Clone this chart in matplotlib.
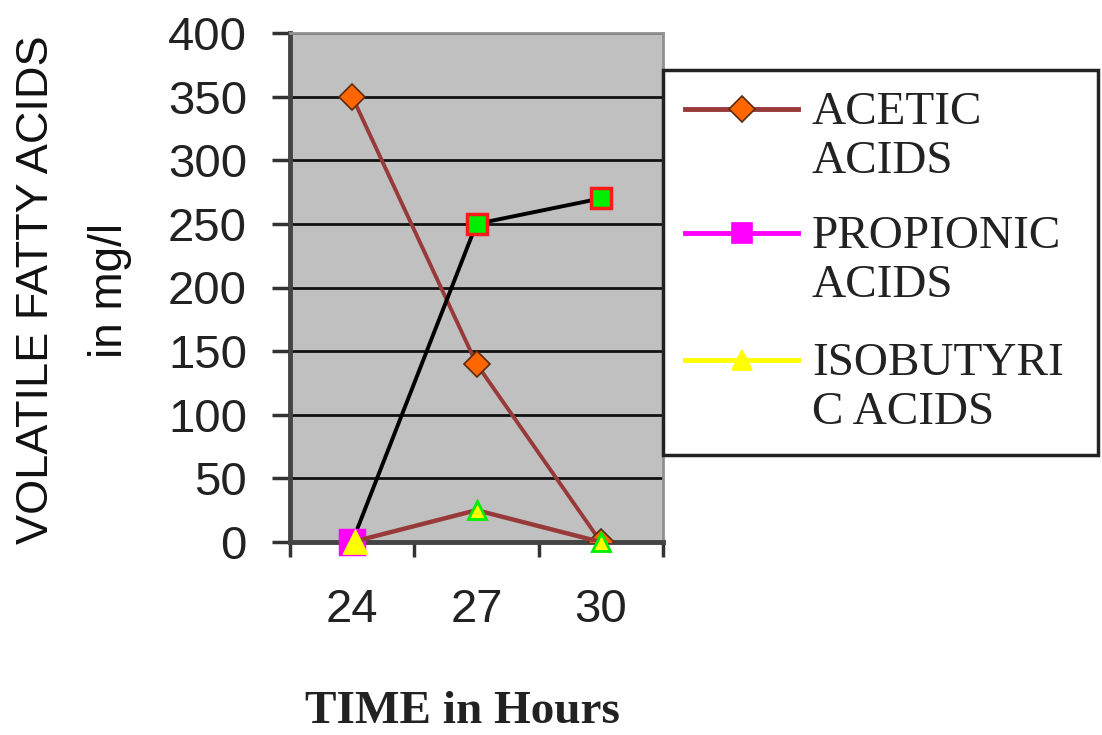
import numpy as np
import matplotlib.pyplot as plt
from matplotlib.lines import Line2D
from matplotlib.patches import Rectangle

# volatile fatty acids (mg/l) against time
hours = ['24', '27', '30']
acetic = [350, 140, 0]
propionic = [0, 250, 270]
isobutyric = [0, 25, 0]
legend_labels = [('ACETIC', 'ACIDS'), ('PROPIONIC', 'ACIDS'), ('ISOBUTYRI', 'C ACIDS')]

W, H = 1102, 735
fig = plt.figure(figsize=(W / 100, H / 100), dpi=100)
fig.patch.set_facecolor('white')

def fx(px):
    return px / W

def fy(py):
    return 1 - py / H

ax = fig.add_axes([fx(290), fy(542), fx(663) - fx(290), fy(33) - fy(542)])
ax.set_facecolor('#c0c0c0')
x = np.arange(len(hours))

brown = '#983a3a'

# acetic
ax.plot(x, acetic, color=brown, lw=2.8, marker='D', ms=13,
        mfc='#ff6600', mec='#5a2a10', mew=1.2, zorder=3)

# propionic: black line, first point magenta, others green with red rim
ax.plot(x, propionic, color='black', lw=2.8, zorder=4)
pro_face = ['#ff00ff', '#00ee00', '#00ee00']
pro_edge = ['#ff00ff', '#ff1a1a', '#ff1a1a']
pro_size = [17, 15, 15]
for xi, yi, fc, ec, ms in zip(x, propionic, pro_face, pro_edge, pro_size):
    ax.plot(xi, yi, marker='s', ms=ms, mfc=fc, mec=ec, mew=2.5, zorder=5, clip_on=False)

# isobutyric
ax.plot(x, isobutyric, color=brown, lw=3.2, zorder=6)
iso_edge = ['#ffff00', '#00ee00', '#00ee00']
iso_size = [16, 13, 13]
for xi, yi, ec, ms in zip(x, isobutyric, iso_edge, iso_size):
    ax.plot(xi + (0.02 if xi == 0 else 0), yi, marker='^', ms=ms,
            mfc='#ffff00', mec=ec, mew=2, zorder=7, clip_on=False)

ax.set_xlim(-0.5, len(hours) - 0.5)
ax.set_ylim(0, 400)
ax.set_yticks(np.arange(0, 401, 50))
ax.set_xticks(x)
ax.set_xticklabels(hours)
ax.set_xticks(np.arange(-0.5, len(hours), 1), minor=True)

ax.yaxis.grid(True, color='#111111', lw=2)
ax.set_axisbelow(True)

for lab in ax.get_yticklabels() + ax.get_xticklabels():
    lab.set_fontfamily('Liberation Sans')
    lab.set_fontsize(34)
    lab.set_color('#222222')

ax.tick_params(axis='y', direction='out', length=13, width=2.5, color='#333333', pad=18)
ax.tick_params(axis='x', which='major', length=0, pad=33)
ax.tick_params(axis='x', which='minor', direction='out', length=11, width=2.5, color='#333333')

for side in ['left', 'bottom']:
    ax.spines[side].set_color('#444444')
    ax.spines[side].set_linewidth(3.5)
for side in ['top', 'right']:
    ax.spines[side].set_color('#909090')
    ax.spines[side].set_linewidth(2)

# axis titles
fig.text(fx(37), fy(290), 'VOLATILE FATTY ACIDS', rotation=90, ha='center', va='center',
         family='Liberation Sans', fontsize=32.5, color='#111111')
fig.text(fx(110), fy(290), 'in mg/l', rotation=90, ha='center', va='center',
         family='Liberation Sans', fontsize=33, color='#111111')
fig.text(fx(462), fy(712), 'TIME in Hours', ha='center', va='center',
         family='Liberation Serif', fontweight='bold', fontsize=34, color='#222222')

# legend box
fig.add_artist(Rectangle((fx(663), fy(455)), fx(1098) - fx(663), fy(70) - fy(455),
                         transform=fig.transFigure, facecolor='white',
                         edgecolor='#222222', lw=2.5, zorder=10))
handles = [
    dict(color=brown, marker='D', ms=13, mfc='#ff6600', mec='#5a2a10'),
    dict(color='#ff00ff', marker='s', ms=15, mfc='#ff00ff', mec='#ff00ff'),
    dict(color='#ffff00', marker='^', ms=15, mfc='#ffff00', mec='#ffff00'),
]
rows = [109, 233, 360]
for (l1, l2), st, ry in zip(legend_labels, handles, rows):
    fig.add_artist(Line2D([fx(685), fx(798)], [fy(ry), fy(ry)], transform=fig.transFigure,
                          lw=3.5, color=st['color'], zorder=11))
    fig.add_artist(Line2D([fx(742)], [fy(ry)], transform=fig.transFigure, lw=0,
                          marker=st['marker'], ms=st['ms'], mfc=st['mfc'], mec=st['mec'],
                          mew=1.2, zorder=12))
    fig.text(fx(812), fy(ry + 15), l1, ha='left', va='baseline', family='Liberation Serif',
             fontsize=34, color='#222222', zorder=12)
    fig.text(fx(812), fy(ry + 64), l2, ha='left', va='baseline', family='Liberation Serif',
             fontsize=34, color='#222222', zorder=12)

fig.savefig('out.png', dpi=100)
